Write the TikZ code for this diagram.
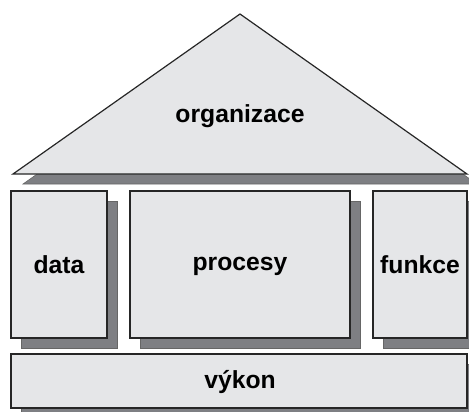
\documentclass[tikz,border=0pt]{standalone}
\usepackage{fontspec}
\setmainfont{Liberation Sans}
\definecolor{wallgray}{RGB}{229,230,232}
\definecolor{shadowgray}{RGB}{126,127,131}

\begin{document}
\begin{tikzpicture}[x=1pt,y=-1pt,
  part/.style={draw=black!85,line width=1.2pt,fill=wallgray},
  castshadow/.style={fill=shadowgray,draw=black!60,line width=0.6pt},
  walltext/.style={font=\fontsize{24.7}{28}\selectfont\bfseries,anchor=base,inner sep=0pt}]
\useasboundingbox (0,0) rectangle (469,412);
\clip (0,0) rectangle (469,412);

% roof
\draw[castshadow] (23,184) -- (250,24) -- (477,184) -- cycle;
\draw[part] (13,174) -- (240,14) -- (467,174) -- cycle;
\node[walltext] (roof) at (240,122) {organizace};

% pillars
\foreach \xa/\xb in {11/107,130/350,373/467}
   \draw[castshadow] (\xa+10,201) rectangle (\xb+10,348);
\draw[part] (11,191) rectangle (107,338);
\draw[part] (130,191) rectangle (350,338);
\draw[part] (373,191) rectangle (467,338);
\node[walltext] (data) at (59,273) {data};
\node[walltext] (procesy) at (240,270) {procesy};
\node[walltext] (funkce) at (420,273) {funkce};

% foundation
\draw[castshadow] (21,364) rectangle (477,418);
\draw[part] (11,354) rectangle (467,408);
\node[walltext] (vykon) at (240,388) {výkon};
\end{tikzpicture}
\end{document}
